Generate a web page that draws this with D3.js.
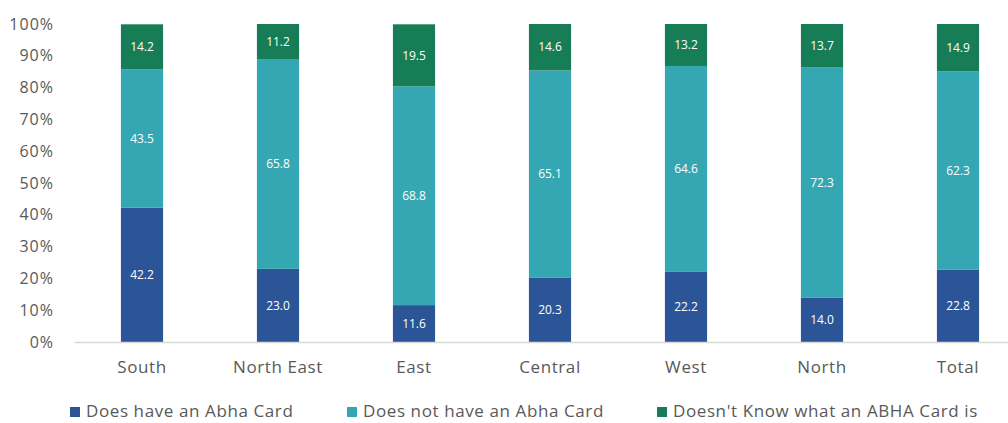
<!DOCTYPE html>
<html>
<head>
<meta charset="utf-8">
<script src="https://cdn.jsdelivr.net/npm/d3@7"></script>
<style>
  body { margin: 0; background: #fff; }
  text { font-family: "Open Sans", sans-serif; }
</style>
</head>
<body>
<div id="chart-area"></div>
<script>
'use strict';
const svg_width = 1008;
const svg_height = 423;

const regions = ['South', 'North East', 'East', 'Central', 'West', 'North', 'Total'];
const has_card = [42.2, 23.0, 11.6, 20.3, 22.2, 14.0, 22.8];
const no_card = [43.5, 65.8, 68.8, 65.1, 64.6, 72.3, 62.3];
const dont_know = [14.2, 11.2, 19.5, 14.6, 13.2, 13.7, 14.9];
const series_names = ['Does have an Abha Card', 'Does not have an Abha Card', "Doesn't Know what an ABHA Card is"];
const y_ticks = [0, 10, 20, 30, 40, 50, 60, 70, 80, 90, 100];

const colors = ['#2b5597', '#35a7b2', '#177d57'];

const table = regions.map((r, i) => ({
  region: r, has: has_card[i], no: no_card[i], dk: dont_know[i]
}));
const stack = d3.stack().keys(['has', 'no', 'dk'])(table);

const svg = d3.select('#chart-area')
  .append('svg')
    .attr('width', svg_width)
    .attr('height', svg_height);

const x_scale = d3.scaleBand()
  .domain(regions)
  .range([74, 1026])
  .paddingInner(0.69)
  .paddingOuter(0.345);

const y_scale = d3.scaleLinear()
  .domain([0, 100])
  .range([342, 24]);

// bars
const layers = svg.selectAll('g.layer').data(stack).enter()
  .append('g')
    .attr('class', 'layer')
    .attr('fill', (d, i) => colors[i]);

layers.selectAll('rect').data(d => d).enter()
  .append('rect')
    .attr('x', d => x_scale(d.data.region))
    .attr('width', x_scale.bandwidth())
    .attr('y', d => y_scale(Math.min(d[1], 100)))
    .attr('height', d => y_scale(d[0]) - y_scale(Math.min(d[1], 100)));

// data labels
layers.selectAll('text').data(d => d).enter()
  .append('text')
    .attr('x', d => x_scale(d.data.region) + x_scale.bandwidth() / 2)
    .attr('y', d => (y_scale(d[0]) + y_scale(Math.min(d[1], 100))) / 2)
    .attr('dy', '0.35em')
    .attr('text-anchor', 'middle')
    .attr('fill', '#fff')
    .style('font-size', '12px')
    .text(d => (d[1] - d[0]).toFixed(1));

// x axis
const x_axis = d3.axisBottom(x_scale).tickSize(0).tickPadding(19);
const gx = svg.append('g')
  .attr('class', 'axis')
  .attr('transform', `translate(0,${y_scale(0)})`)
  .call(x_axis);
gx.select('.domain').attr('stroke', '#d9d9d9').attr('stroke-width', 1.5);
gx.selectAll('text')
  .attr('fill', '#595959')
  .style('font-size', '17px')
  .style('letter-spacing', '0.6px')
  .style('font-family', '"Open Sans", sans-serif');

// y axis
const y_axis = d3.axisLeft(y_scale).tickValues(y_ticks).tickSize(0).tickPadding(0)
  .tickFormat(d => d + '%');
const gy = svg.append('g')
  .attr('class', 'axis')
  .attr('transform', 'translate(54,0)')
  .call(y_axis);
gy.select('.domain').remove();
gy.selectAll('text')
  .attr('fill', '#595959')
  .style('font-size', '16px')
  .style('letter-spacing', '1px')
  .style('font-family', '"Open Sans", sans-serif');

// legend
const legend_x = [70, 347, 657];
const legend = svg.selectAll('g.legend').data(series_names).enter()
  .append('g')
    .attr('class', 'legend')
    .attr('transform', (d, i) => `translate(${legend_x[i]},411)`);
legend.append('rect')
  .attr('x', 0).attr('y', -4)
  .attr('width', 10).attr('height', 10)
  .attr('fill', (d, i) => colors[i]);
legend.append('text')
  .attr('x', 16)
  .attr('dy', '0.35em')
  .attr('fill', '#595959')
  .style('font-size', '17px')
  .style('letter-spacing', '0.6px')
  .text(d => d);
</script>
</body>
</html>
